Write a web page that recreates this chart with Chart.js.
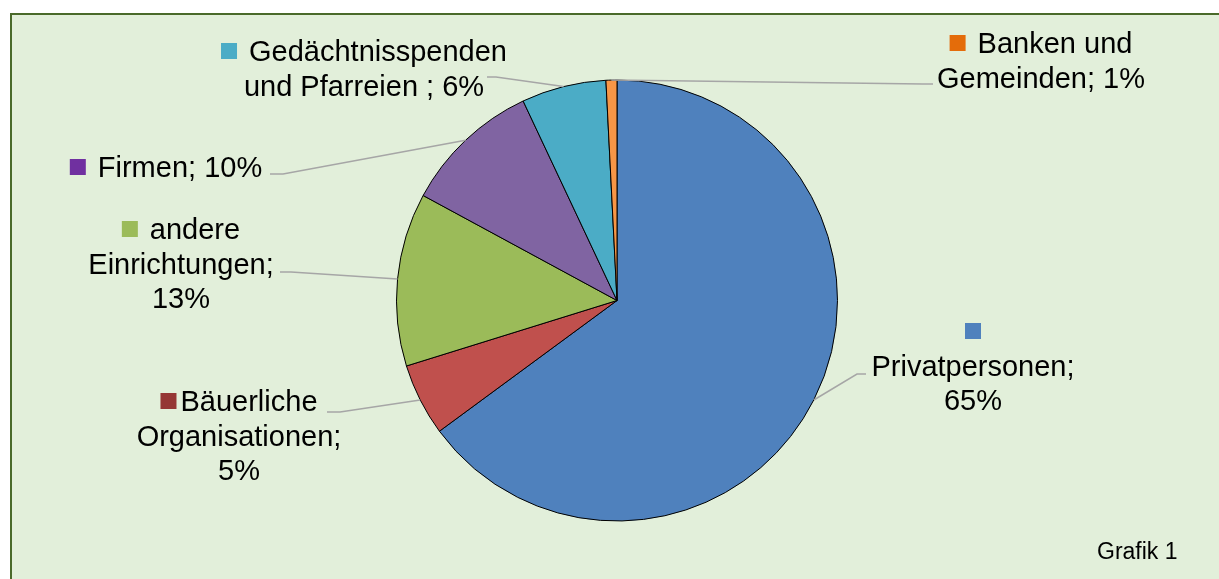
<!DOCTYPE html>
<html>
<head>
<meta charset="utf-8">
<script src="https://cdn.jsdelivr.net/npm/chart.js@4.4.1/dist/chart.umd.min.js"></script>
<style>
  html, body { margin: 0; padding: 0; background: #ffffff; overflow: hidden; }
  #frame {
    position: absolute; left: 10px; top: 13px; width: 1230px; height: 600px;
    background: #e2efda; border: 2px solid #4a6a2a; box-sizing: border-box;
  }
  #wrap { position: absolute; left: 0; top: 0; width: 1219px; height: 579px; }
</style>
</head>
<body>
<div id="frame"></div>
<div id="wrap"><canvas id="pie" width="1219" height="579"></canvas></div>
<script>
// Spender nach Gruppen (Anteile in %)
const categories = [
  "Privatpersonen",
  "Bäuerliche Organisationen",
  "andere Einrichtungen",
  "Firmen",
  "Gedächtnisspenden und Pfarreien ",
  "Banken und Gemeinden"
];
const shares = [64.9, 5.3, 12.7, 10.1, 6.2, 0.8];
const footnote = "Grafik 1";

const sliceColors = ["#4f81bd", "#c0504d", "#9bbb59", "#8064a2", "#4bacc6", "#f79646"];
const keyColors = ["#4f81bd", "#953735", "#9bbb59", "#7030a0", "#4bacc6", "#e46c0a"];

// label placement: centre x, centre y of first line, wrap width, marker gap,
// leader line end (ex, ey) and elbow x
const labelLayout = [
  { cx: 973, cy: 331, maxW: 215, gap: 12, ex: 866, ey: 374, bx: 857 },
  { cx: 239, cy: 401, maxW: 215, gap: 4, ex: 327, ey: 412, bx: 340 },
  { cx: 181, cy: 229, maxW: 205, gap: 12, ex: 280, ey: 272, bx: 291 },
  { cx: 166, cy: 167, maxW: 300, gap: 12, ex: 270, ey: 174, bx: 283 },
  { cx: 364, cy: 51, maxW: 305, gap: 12, ex: 487, ey: 77, bx: 496 },
  { cx: 1041, cy: 43, maxW: 220, gap: 12, ex: 933, ey: 84, bx: 923 }
];

const FONT_SIZE = 29;
const LINE_H = 34.5;
const KEY = 16;

function wrapLabel(ctx, text, maxW, gap) {
  const words = text.split(" ").filter(w => w.length);
  const lines = [];
  let cur = { marker: true, words: [] };
  const widthOf = (l) => {
    const t = ctx.measureText(l.words.join(" ")).width;
    if (!l.marker) return t;
    return l.words.length ? KEY + gap + t : KEY;
  };
  words.forEach((w) => {
    const test = { marker: cur.marker, words: cur.words.concat([w]) };
    if (widthOf(test) > maxW && (cur.marker || cur.words.length)) {
      lines.push(cur);
      cur = { marker: false, words: [w] };
    } else {
      cur = test;
    }
  });
  lines.push(cur);
  return lines.map(l => ({ marker: l.marker, text: l.words.join(" "), width: widthOf(l) }));
}

const labelPlugin = {
  id: "sliceLabels",
  afterDraw(chart) {
    const ctx = chart.ctx;
    const meta = chart.getDatasetMeta(0);
    ctx.save();
    ctx.font = FONT_SIZE + "px 'Liberation Sans', Arial, sans-serif";
    ctx.textBaseline = "alphabetic";
    ctx.textAlign = "left";

    meta.data.forEach((arc, i) => {
      const lay = labelLayout[i];
      const p = arc.getProps(["x", "y", "startAngle", "endAngle", "outerRadius"], true);
      const mid = (p.startAngle + p.endAngle) / 2;
      const px = p.x + Math.cos(mid) * p.outerRadius;
      const py = p.y + Math.sin(mid) * p.outerRadius;

      // leader line
      ctx.strokeStyle = "#a6a6a6";
      ctx.lineWidth = 1.5;
      ctx.beginPath();
      ctx.moveTo(px, py);
      ctx.lineTo(lay.bx, lay.ey);
      ctx.lineTo(lay.ex, lay.ey);
      ctx.stroke();

      // text
      const pct = Math.round(chart.data.datasets[0].data[i]);
      const text = chart.data.labels[i] + "; " + pct + "%";
      const lines = wrapLabel(ctx, text, lay.maxW, lay.gap);
      lines.forEach((ln, k) => {
        const cy = lay.cy + k * LINE_H;
        let x = lay.cx - ln.width / 2;
        if (ln.marker) {
          ctx.fillStyle = keyColors[i];
          ctx.fillRect(x, cy - KEY / 2, KEY, KEY);
          x += KEY + lay.gap;
        }
        ctx.fillStyle = "#000000";
        ctx.fillText(ln.text, x, cy + FONT_SIZE * 0.35);
      });
    });

    ctx.font = "23px 'Liberation Sans', Arial, sans-serif";
    ctx.fillStyle = "#000000";
    ctx.fillText(footnote, 1097, 559);
    ctx.restore();
  }
};

new Chart(document.getElementById("pie"), {
  type: "pie",
  data: {
    labels: categories,
    datasets: [{
      data: shares,
      backgroundColor: sliceColors,
      borderColor: "#000000",
      borderWidth: 1
    }]
  },
  options: {
    responsive: false,
    animation: false,
    layout: { padding: { left: 396, right: 381, top: 79.5, bottom: 57.5 } },
    plugins: {
      legend: { display: false },
      tooltip: { enabled: false }
    }
  },
  plugins: [labelPlugin]
});
</script>
</body>
</html>
